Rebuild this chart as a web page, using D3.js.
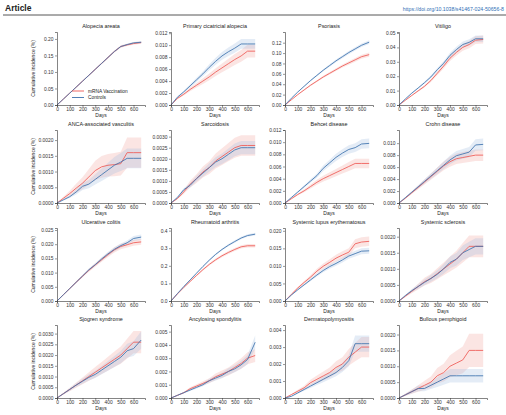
<!DOCTYPE html>
<html>
<head>
<meta charset="utf-8">
<script src="https://cdn.jsdelivr.net/npm/d3@7"></script>
<style>
body{margin:0;background:#fff;}
svg{display:block;font-family:"Liberation Sans",Arial,sans-serif;}
.tick text{fill:#333;}
</style>
</head>
<body>
<script>
var days=[0,50,100,150,200,250,300,350,400,450,500,550,600,660];

var titles=["Alopecia areata","Primary cicatricial alopecia","Psoriasis","Vitiligo",
  "ANCA-associated vasculitis","Sarcoidosis","Behcet disease","Crohn disease",
  "Ulcerative colitis","Rheumatoid arthritis","Systemic lupus erythematosus","Systemic sclerosis",
  "Sjogren syndrome","Ancylosing spondylitis","Dermatopolymyositis","Bullous pemphigoid"];

var mrna=[
 [0,0.018,0.036,0.054,0.072,0.09,0.108,0.126,0.144,0.162,0.177,0.182,0.186,0.189],
 [0,0.0011,0.0018,0.0026,0.0033,0.0040,0.0047,0.0055,0.0062,0.0069,0.0076,0.0082,0.0090,0.0090],
 [0,0.010,0.020,0.029,0.038,0.046,0.054,0.061,0.068,0.075,0.081,0.087,0.093,0.097],
 [0,0.0033,0.0066,0.0098,0.013,0.017,0.022,0.027,0.0325,0.0365,0.040,0.042,0.045,0.0455],
 [0,0.00015,0.0003,0.00047,0.00063,0.00083,0.00103,0.00115,0.0012,0.00122,0.00125,0.0016,0.0016,0.0016],
 [0,0.0002,0.0005,0.00085,0.0011,0.0014,0.0016,0.0019,0.0021,0.0023,0.0025,0.0026,0.0026,0.0026],
 [0,0.0007,0.0014,0.002,0.0027,0.0034,0.004,0.0045,0.005,0.0055,0.006,0.0065,0.0065,0.0065],
 [0,0.0008,0.0017,0.0026,0.0035,0.0044,0.0053,0.0062,0.0069,0.0074,0.0076,0.0078,0.008,0.008],
 [0,0.0022,0.0044,0.0066,0.0087,0.0108,0.0127,0.0145,0.0163,0.018,0.0192,0.0198,0.0205,0.0208],
 [0,0.04,0.077,0.111,0.145,0.178,0.208,0.234,0.257,0.276,0.293,0.308,0.314,0.314],
 [0,0.0019,0.0037,0.0053,0.0068,0.0085,0.0099,0.011,0.0122,0.0131,0.0139,0.0163,0.0168,0.017],
 [0,0.00015,0.0003,0.00045,0.0006,0.0007,0.00085,0.001,0.00115,0.0013,0.0015,0.0017,0.0017,0.0017],
 [0,0.0002,0.0004,0.0006,0.0008,0.001,0.0012,0.0014,0.0016,0.0018,0.002,0.0023,0.0026,0.0026],
 [0,0.0002,0.0004,0.0007,0.0009,0.0011,0.0013,0.0016,0.0018,0.002,0.0023,0.0026,0.003,0.0032],
 [0,0.0002,0.0004,0.0006,0.0009,0.0011,0.0013,0.0015,0.0018,0.002,0.0024,0.0027,0.003,0.003],
 [0,0.0001,0.0002,0.0003,0.0004,0.0005,0.0007,0.0008,0.001,0.0011,0.0012,0.0015,0.0015,0.0015]
];

var controls=[
 [0,0.018,0.036,0.054,0.072,0.09,0.108,0.126,0.144,0.162,0.177,0.183,0.188,0.19],
 [0,0.0013,0.0022,0.0032,0.0042,0.0052,0.0063,0.0073,0.0082,0.0089,0.0095,0.0102,0.0102,0.0102],
 [0,0.013,0.025,0.036,0.047,0.057,0.067,0.076,0.085,0.093,0.101,0.108,0.115,0.121],
 [0,0.0042,0.0082,0.0118,0.0155,0.0195,0.0245,0.029,0.0345,0.0385,0.042,0.0435,0.046,0.046],
 [0,0.0001,0.0002,0.00035,0.00053,0.0006,0.00075,0.0009,0.00105,0.0012,0.0013,0.00142,0.00142,0.00142],
 [0,0.00025,0.0006,0.0008,0.0011,0.00135,0.0016,0.00185,0.002,0.0022,0.0024,0.0025,0.0025,0.0025],
 [0,0.0009,0.0018,0.0027,0.0036,0.0045,0.0057,0.0066,0.0075,0.0082,0.0088,0.0091,0.0097,0.0098],
 [0,0.0009,0.0018,0.0027,0.0036,0.0045,0.0054,0.0063,0.0072,0.0079,0.0082,0.0085,0.0097,0.0098],
 [0,0.0022,0.0044,0.0066,0.0088,0.011,0.0128,0.0148,0.0166,0.0182,0.0195,0.0205,0.022,0.0225],
 [0,0.042,0.082,0.12,0.158,0.196,0.232,0.265,0.293,0.317,0.338,0.358,0.372,0.38],
 [0,0.0017,0.0032,0.0046,0.006,0.0074,0.0087,0.0098,0.0107,0.0117,0.0128,0.0135,0.0142,0.0143],
 [0,0.00017,0.00032,0.00045,0.00058,0.0007,0.00083,0.001,0.0012,0.0013,0.0015,0.0016,0.0017,0.0017],
 [0,0.0002,0.0004,0.0006,0.00078,0.00096,0.0011,0.0013,0.0015,0.0017,0.0019,0.0022,0.0023,0.0027],
 [0,0.0002,0.0004,0.0006,0.0008,0.001,0.0013,0.0015,0.0017,0.002,0.0022,0.0025,0.0029,0.0042],
 [0,0.0001,0.0003,0.0005,0.0007,0.0009,0.0011,0.0013,0.0015,0.0018,0.0022,0.0032,0.0032,0.0032],
 [0,0.0001,0.0002,0.0003,0.0003,0.0004,0.0005,0.0006,0.0007,0.0007,0.0007,0.0007,0.0007,0.0007]
];

// relative half width of the shaded bands at each panel
var bandRed=[0.02,0.12,0.04,0.06,0.3,0.18,0.12,0.12,0.05,0.03,0.08,0.2,0.2,0.15,0.2,0.35];
var bandBlue=[0.015,0.08,0.03,0.05,0.22,0.12,0.08,0.1,0.04,0.02,0.06,0.15,0.15,0.12,0.15,0.3];

var yMax=[0.221,0.0122,0.1406,0.0507,0.00232,0.0033,0.012,0.0122,
          0.0257,0.415,0.0208,0.00227,0.0034,0.0055,0.0043,0.0023];
var yStep=[0.05,0.002,0.02,0.01,0.0005,0.0005,0.002,0.002,
           0.005,0.1,0.005,0.0005,0.0005,0.001,0.001,0.0005];
var yTop=[0.20,0.012,0.12,0.05,0.0020,0.0030,0.012,0.010,
          0.025,0.4,0.020,0.0020,0.0030,0.005,0.004,0.0020];
var yFmt=[2,3,2,2,4,4,3,3,3,1,3,4,4,3,3,4];

var xTicks=[0,100,200,300,400,500,600];

var red="#ee5a55",blue="#3d72ad";

var W=506,H=415;
var svg=d3.select("body").append("svg").attr("width",W).attr("height",H);
svg.append("rect").attr("width",W).attr("height",H).attr("fill","#fff");

// header
svg.append("text").attr("x",5).attr("y",11).attr("font-size",8.5).attr("font-weight","bold")
   .attr("fill","#222").text("Article");
svg.append("text").attr("x",504).attr("y",11).attr("font-size",5.2).attr("text-anchor","end")
   .attr("fill","#2f6fb5").text("https://doi.org/10.1038/s41467-024-50656-8");
svg.append("line").attr("x1",3).attr("x2",506).attr("y1",15).attr("y2",15)
   .attr("stroke","#444").attr("stroke-width",0.9);

var colX=[57,171,285,399],rowBottom=[105,203,301,398];
var pw=88,ph=73;

var x=d3.scaleLinear().domain([0,690]).range([0,pw]);

titles.forEach(function(t,i){
    var c=i%4,r=Math.floor(i/4);
    var g=svg.append("g").attr("transform","translate("+colX[c]+","+(rowBottom[r]-ph)+")");
    var y=d3.scaleLinear().domain([0,yMax[i]]).range([ph,0]);

    var series=[{v:mrna[i],col:red,b:bandRed[i],fill:"#f2a09c"},
                {v:controls[i],col:blue,b:bandBlue[i],fill:"#9dbbe0"}];

    series.forEach(function(s){
        var area=d3.area().x(function(d,k){return x(days[k]);})
            .y0(function(d){return y(d*(1-s.b));})
            .y1(function(d){return y(Math.min(d*(1+s.b),yMax[i]));});
        g.append("path").datum(s.v).attr("d",area).attr("fill",s.fill).attr("opacity",0.28);
    });
    series.forEach(function(s){
        var line=d3.line().x(function(d,k){return x(days[k]);}).y(function(d){return y(d);});
        g.append("path").datum(s.v).attr("d",line).attr("fill","none")
         .attr("stroke",s.col).attr("stroke-width",0.85);
    });

    var yt=d3.range(0,yTop[i]+yStep[i]/2,yStep[i]);
    var ya=g.append("g").call(d3.axisLeft(y).tickValues(yt).tickSize(2).tickPadding(1.5)
        .tickFormat(function(d){return d.toFixed(yFmt[i]);}));
    var xa=g.append("g").attr("transform","translate(0,"+ph+")")
        .call(d3.axisBottom(x).tickValues(xTicks).tickSize(2).tickPadding(1));
    [ya,xa].forEach(function(a){
        a.selectAll("text").attr("font-size",4.9).attr("font-family","Liberation Sans, Arial, sans-serif");
        a.selectAll("line").attr("stroke","#333").attr("stroke-width",0.5);
        a.select(".domain").attr("stroke","#333").attr("stroke-width",0.6);
    });

    g.append("text").attr("x",pw/2).attr("y",-4).attr("text-anchor","middle")
     .attr("font-size",5.4).attr("fill","#222").text(t);
    g.append("text").attr("x",44).attr("y",ph+11.5).attr("text-anchor","middle")
     .attr("font-size",5).attr("fill","#222").text("Days");

    if(c==0){
        g.append("text").attr("transform","translate(-22,"+(ph/2)+") rotate(-90)")
         .attr("text-anchor","middle").attr("font-size",5).attr("fill","#222")
         .text("Cumulative incidence (%)");
    }
    if(i==0){
        var lg=[["mRNA Vaccination",red],["Controls",blue]];
        lg.forEach(function(d,k){
            var yy=ph-14+k*6.5;
            g.append("line").attr("x1",15).attr("x2",27).attr("y1",yy).attr("y2",yy)
             .attr("stroke",d[1]).attr("stroke-width",0.9);
            g.append("text").attr("x",31).attr("y",yy+1.7).attr("font-size",4.8)
             .attr("fill","#222").text(d[0]);
        });
    }
});
</script>
</body>
</html>
